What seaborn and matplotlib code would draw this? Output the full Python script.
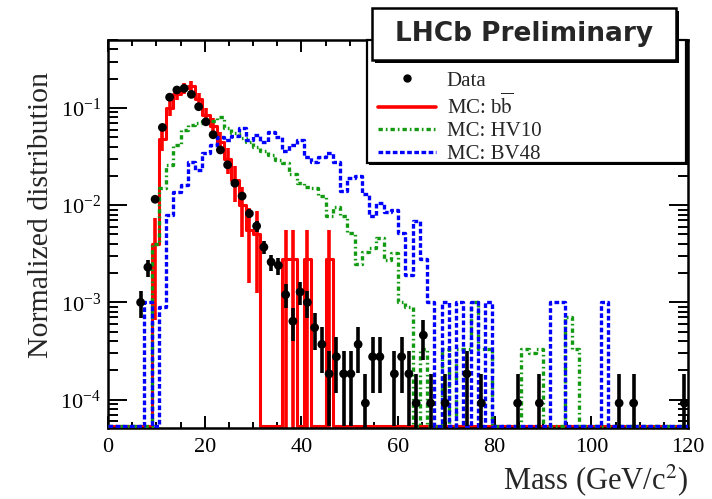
import numpy as np
import pandas as pd
import matplotlib
matplotlib.use("Agg")
import matplotlib.pyplot as plt
import seaborn as sns
from matplotlib.lines import Line2D
from matplotlib.patches import Rectangle
from matplotlib.ticker import MultipleLocator, LogLocator, NullFormatter

# ---------------- data (normalized distributions, 1.5 GeV bins, 0-120 GeV) ----------------
BIN_WIDTH = 1.5
MASS_MIN, MASS_MAX = 0.0, 120.0

data_norm = [
    0, 0, 0, 0, 1.0e-3, 2.3e-3, 1.15e-2, 0.063, 0.129, 0.153,
    0.159, 0.138, 0.103, 0.072, 0.053, 0.037, 0.026, 0.0168, 0.0124, 0.0082,
    0.0061, 0.0037, 0.0026, 0.0024, 0.0012, 6.4e-4, 1.28e-3, 1.0e-3, 5.5e-4, 3.7e-4,
    1.84e-4, 2.76e-4, 1.84e-4, 1.84e-4, 3.7e-4, 9.2e-5, 2.76e-4, 2.76e-4, 0, 1.84e-4,
    2.76e-4, 1.84e-4, 9.2e-5, 4.6e-4, 9.2e-5, 0, 9.2e-5, 0, 0, 1.84e-4,
    0, 9.2e-5, 0, 0, 0, 0, 9.2e-5, 0, 0, 9.2e-5,
    0, 0, 0, 0, 0, 0, 0, 0, 0, 0,
    9.2e-5, 0, 9.2e-5, 0, 0, 0, 0, 0, 0, 9.2e-5,
]
mc_bb = [
    0, 0, 0, 0, 0, 0, 4.0e-3, 0.048, 0.10, 0.14,
    0.16, 0.168, 0.125, 0.085, 0.065, 0.045, 0.030, 0.018, 0.010, 0.0055,
    0.0050, 0, 0, 0, 2.8e-3, 2.8e-3, 0, 2.8e-3, 0, 0,
    2.8e-3, 0, 0, 0, 0, 0, 0, 0, 0, 0,
    0, 0, 0, 0, 0, 0, 0, 0, 0, 0,
    0, 0, 0, 0, 0, 0, 0, 0, 0, 0,
    0, 0, 0, 0, 0, 0, 0, 0, 0, 0,
    0, 0, 0, 0, 0, 0, 0, 0, 0, 0,
]
mc_hv10 = [
    0, 0, 0, 0, 0, 0, 4.0e-3, 0.015, 0.026, 0.042,
    0.060, 0.066, 0.070, 0.073, 0.074, 0.080, 0.062, 0.055, 0.049, 0.045,
    0.040, 0.036, 0.033, 0.029, 0.027, 0.021, 0.017, 0.0155, 0.015, 0.0125,
    0.0078, 0.0096, 0.0078, 0.0052, 0.0025, 0.0033, 0.0036, 0.0046, 0.0027, 0.0032,
    1.0e-3, 9.0e-4, 0, 3.3e-4, 0, 0, 3.3e-4, 0, 3.3e-4, 3.3e-4,
    1.0e-3, 3.3e-4, 3.3e-4, 0, 0, 0, 0, 3.3e-4, 3.0e-4, 3.3e-4,
    0, 0, 0, 7.0e-4, 3.3e-4, 0, 0, 0, 0, 0,
    0, 0, 0, 0, 0, 0, 0, 0, 0, 0,
]
mc_bv48 = [
    0, 0, 0, 0, 0, 1.0e-3, 0, 9.0e-4, 7.9e-3, 0.0138,
    0.016, 0.028, 0.023, 0.034, 0.042, 0.050, 0.047, 0.052, 0.062, 0.047,
    0.053, 0.045, 0.057, 0.050, 0.036, 0.042, 0.047, 0.031, 0.028, 0.031,
    0.034, 0.028, 0.014, 0.019, 0.020, 0.013, 0.0078, 0.0105, 0.0085, 0.0089,
    0.0052, 0.0019, 0.0068, 0.0028, 1.0e-3, 0, 1.0e-3, 0, 1.0e-3, 0,
    1.0e-3, 0, 1.0e-3, 0, 0, 0, 0, 0, 0, 0,
    0, 1.0e-3, 1.0e-3, 0, 0, 0, 0, 0, 1.0e-3, 0,
    0, 0, 0, 0, 0, 0, 0, 0, 0, 0,
]
# weight of a single event in each normalized sample (for Poisson error bars)
DATA_EVENT = 9.2e-5
BB_EVENT = 2.8e-3

legend_labels = ["Data", r"MC: b$\overline{\mathrm{b}}$", "MC: HV10", "MC: BV48"]
x_label = r"Mass (GeV/c$^{2}$)"
y_label = "Normalized distribution"
title_text = "LHCb Preliminary"

edges = np.arange(MASS_MIN, MASS_MAX + BIN_WIDTH / 2, BIN_WIDTH)
centers = 0.5 * (edges[:-1] + edges[1:])

# ---------------- style ----------------
sns.set_style("ticks")
plt.rcParams.update({
    "font.family": ["Liberation Serif", "DejaVu Serif"],
    "mathtext.fontset": "stix",
    "axes.linewidth": 1.8,
    "xtick.color": "black",
    "ytick.color": "black",
})

W, H = 712, 499
fig = plt.figure(figsize=(W / 100, H / 100), dpi=100)
AX_L, AX_R, AX_T, AX_B = 108, 688, 40, 428
ax = fig.add_axes([AX_L / W, (H - AX_B) / H, (AX_R - AX_L) / W, (AX_B - AX_T) / H])
ax.set_facecolor("white")
ax.set_yscale("log")
YMIN, YMAX = 5.1e-5, 0.5
ax.set_xlim(MASS_MIN, MASS_MAX)
ax.set_ylim(YMIN, YMAX)

RED = "#ff0000"
GREEN = "#129a12"
BLUE = "#0000ff"
GREEN_LS = (0, (1.3, 0.9, 0.5, 0.9))
BLUE_LS = (0, (1.4, 0.75))


def step(vals, **kw):
    v = np.asarray(vals, float)
    shown = np.where(v > 0, v, YMIN * 1.04)  # empty bins drawn on the frame, as ROOT does
    df = pd.DataFrame({"mass": edges, "y": np.append(shown, shown[-1])})
    sns.lineplot(data=df, x="mass", y="y", drawstyle="steps-post", ax=ax,
                 legend=False, **kw)


# red b-bbar MC with error bars
bb = np.asarray(mc_bb, float)
step(bb, color=RED, linewidth=2.2, zorder=2)
mb = bb > 0
bb_err = np.sqrt(bb[mb] * BB_EVENT)
ax.errorbar(centers[mb], bb[mb], yerr=bb_err, fmt="none", ecolor=RED,
            elinewidth=2.6, capsize=0, zorder=2)

# green HV10 MC
step(mc_hv10, color=GREEN, linewidth=2.4, linestyle=GREEN_LS, zorder=3)
# blue BV48 MC
step(mc_bv48, color=BLUE, linewidth=2.4, linestyle=BLUE_LS, zorder=3)

# data points
d = np.asarray(data_norm, float)
md = d > 0
d_err = np.sqrt(d[md] * DATA_EVENT)
ax.errorbar(centers[md], d[md], yerr=d_err, fmt="none", ecolor="black",
            elinewidth=2.6, capsize=0, zorder=5)
sns.scatterplot(x=centers[md], y=d[md], color="black", s=40, edgecolor="none",
                zorder=6, ax=ax, legend=False)

# ---------------- axes / ticks ----------------
ax.xaxis.set_major_locator(MultipleLocator(20))
ax.xaxis.set_minor_locator(MultipleLocator(5))
ax.yaxis.set_major_locator(LogLocator(base=10, numticks=20))
ax.yaxis.set_minor_locator(LogLocator(base=10, subs=np.arange(2, 10), numticks=20))
ax.yaxis.set_minor_formatter(NullFormatter())
ax.tick_params(which="both", direction="in", top=True, right=True, width=1.4)
ax.tick_params(axis="x", which="major", length=8.5, labelsize=16, pad=7)
ax.tick_params(axis="x", which="minor", length=4.3)
ax.tick_params(axis="y", which="major", length=13.5, labelsize=16, pad=5)
ax.tick_params(axis="y", which="minor", length=7)
for s in ax.spines.values():
    s.set_linewidth(1.8)
    s.set_color("black")

ax.set_xlabel(x_label, fontsize=22, ha="right", va="baseline")
ax.xaxis.set_label_coords(1.0, (AX_B - 489) / (AX_B - AX_T))
ax.set_ylabel(y_label, fontsize=21.5, ha="center", va="center")
ax.yaxis.set_label_coords((41 - AX_L) / (AX_R - AX_L), (AX_B - 215) / (AX_B - AX_T))

# ---------------- legend box ----------------
def ax_x(px):
    return (px - AX_L) / (AX_R - AX_L)


def ax_y(py):
    return (AX_B - py) / (AX_B - AX_T)


lx0, lx1, ly0, ly1 = 367, 686, 163, 40
ax.add_patch(Rectangle((ax_x(lx0) + 0.004, ax_y(ly0) - 0.006), ax_x(lx1) - ax_x(lx0),
                       ax_y(ly1) - ax_y(ly0), transform=ax.transAxes, facecolor="black",
                       edgecolor="none", clip_on=False, zorder=7))
ax.add_patch(Rectangle((ax_x(lx0), ax_y(ly0)), ax_x(lx1) - ax_x(lx0), ax_y(ly1) - ax_y(ly0),
                       transform=ax.transAxes, facecolor="white", edgecolor="black",
                       linewidth=1.6, clip_on=False, zorder=8))

handles = [
    Line2D([], [], marker="o", color="black", linestyle="none", markersize=5),
    Line2D([], [], color=RED, linewidth=2.6),
    Line2D([], [], color=GREEN, linewidth=2.4, linestyle=GREEN_LS),
    Line2D([], [], color=BLUE, linewidth=2.4, linestyle=BLUE_LS),
]
leg = ax.legend(handles, legend_labels, loc="upper left",
                bbox_to_anchor=(ax_x(378), ax_y(71)), frameon=False,
                prop={"family": ["Liberation Serif"], "size": 15},
                handlelength=2.8, handletextpad=0.5, labelspacing=0.14,
                borderpad=0, borderaxespad=0)
leg.set_zorder(9)

# ---------------- title box ----------------
tx0, tx1, ty0, ty1 = 372, 676, 8, 60
fig.patches.append(Rectangle(((tx0 + 3) / W, (H - ty1 - 3) / H), (tx1 - tx0) / W,
                             (ty1 - ty0) / H, transform=fig.transFigure,
                             facecolor="black", edgecolor="none", zorder=10))
fig.patches.append(Rectangle((tx0 / W, (H - ty1) / H), (tx1 - tx0) / W, (ty1 - ty0) / H,
                             transform=fig.transFigure, facecolor="white",
                             edgecolor="black", linewidth=1.8, zorder=11))
fig.text((tx0 + tx1) / 2 / W, 1 - (ty0 + ty1) / 2 / H, title_text, ha="center",
         va="center", fontsize=19, fontweight="bold", family="DejaVu Sans", zorder=12)

fig.savefig("out.png", dpi=100)
